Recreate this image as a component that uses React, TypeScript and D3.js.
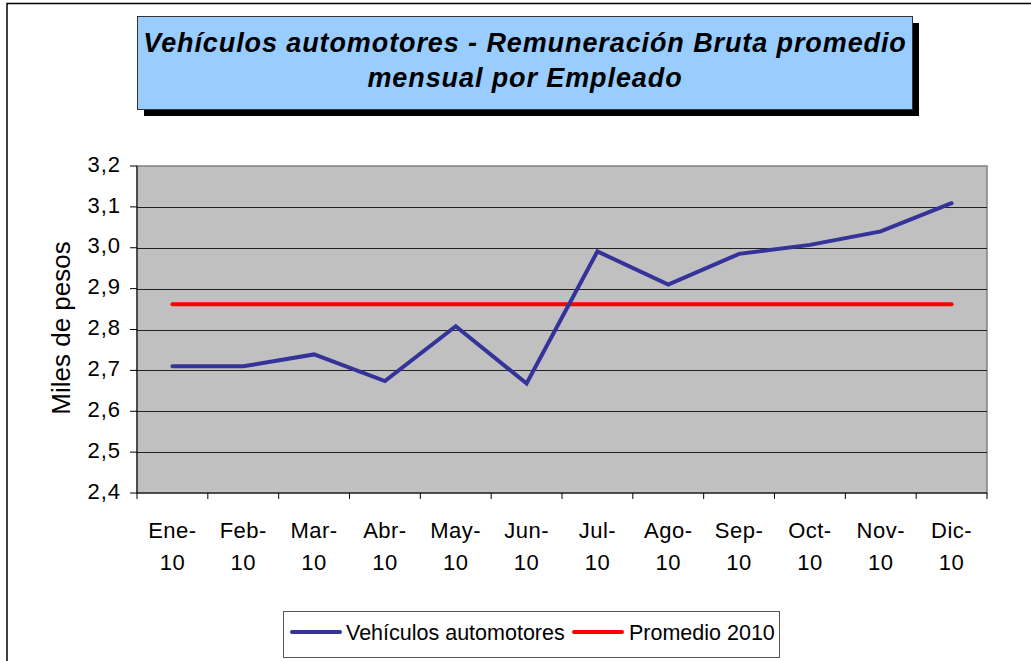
import React from "react";
import * as d3 from "d3";

const months = ["Ene-", "Feb-", "Mar-", "Abr-", "May-", "Jun-", "Jul-", "Ago-", "Sep-", "Oct-", "Nov-", "Dic-"];
const yearLabel = "10";
const vehiculos = [2.71, 2.71, 2.739, 2.674, 2.808, 2.668, 2.991, 2.91, 2.985, 3.007, 3.04, 3.109];
const promedio = [2.862, 2.862, 2.862, 2.862, 2.862, 2.862, 2.862, 2.862, 2.862, 2.862, 2.862, 2.862];
const yTicks = [2.4, 2.5, 2.6, 2.7, 2.8, 2.9, 3.0, 3.1, 3.2];

const W = 1031;
const H = 661;
const plot = { left: 137, right: 987, top: 166, bottom: 493 };
const font = "Arial, 'Liberation Sans', Helvetica, sans-serif";

export default function App() {
  const x = d3.scaleBand<string>().domain(months).range([plot.left, plot.right]);
  const y = d3.scaleLinear().domain([2.4, 3.2]).range([plot.bottom, plot.top]);
  const cx = (i: number) => (x(months[i]) as number) + x.bandwidth() / 2;

  const line = d3.line<number>().x((_, i) => cx(i)).y(d => y(d));
  const fmt = (v: number) => v.toFixed(1).replace(".", ",");

  // tick boundaries between categories
  const xTicks = d3.range(months.length + 1).map(i => plot.left + i * x.bandwidth());

  return (
    <svg width={W} height={H} style={{ position: "absolute", left: 0, top: 0, fontFamily: font }}>
      <rect x={0} y={0} width={W} height={H} fill="#fff" />
      {/* outer chart border */}
      <rect x={7} y={3.5} width={W + 10} height={H + 10} fill="none" stroke="#000" strokeWidth={1.5} />

      {/* title box with shadow */}
      <rect x={144} y={23} width={775} height={93} fill="#000" />
      <rect x={137.5} y={16.5} width={775} height={93} fill="#99ccff" stroke="#333" strokeWidth={1} />
      <text x={525} y={52} textAnchor="middle" fontSize={27} fontWeight="bold" fontStyle="italic" letterSpacing={0.9} fill="#000">
        Vehículos automotores - Remuneración Bruta promedio
      </text>
      <text x={525} y={87} textAnchor="middle" fontSize={27} fontWeight="bold" fontStyle="italic" letterSpacing={0.9} fill="#000">
        mensual por Empleado
      </text>

      {/* plot area */}
      <rect x={plot.left} y={plot.top} width={plot.right - plot.left} height={plot.bottom - plot.top} fill="#c0c0c0" stroke="#808080" strokeWidth={1.5} />
      {yTicks.slice(1, -1).map(t => (
        <line key={t} x1={plot.left} x2={plot.right} y1={Math.round(y(t)) + 0.5} y2={Math.round(y(t)) + 0.5} stroke="#222" strokeWidth={1} />
      ))}

      {/* axes */}
      <line x1={plot.left} x2={plot.left} y1={plot.top} y2={plot.bottom} stroke="#000" strokeWidth={1} />
      <line x1={plot.left} x2={plot.right} y1={plot.bottom} y2={plot.bottom} stroke="#000" strokeWidth={1} />
      {yTicks.map(t => (
        <g key={t}>
          <line x1={plot.left - 7} x2={plot.left} y1={y(t)} y2={y(t)} stroke="#000" />
          <text x={121} y={y(t) - 2} dy="0.35em" textAnchor="end" fontSize={22} letterSpacing={1} fill="#000">{fmt(t)}</text>
        </g>
      ))}
      {xTicks.map((t, i) => (
        <line key={i} x1={t} x2={t} y1={plot.bottom} y2={plot.bottom + 6} stroke="#000" />
      ))}
      {months.map((m, i) => (
        <g key={m}>
          <text x={cx(i)} y={538} textAnchor="middle" fontSize={22} letterSpacing={0.5} fill="#000">{m}</text>
          <text x={cx(i)} y={570} textAnchor="middle" fontSize={22} letterSpacing={0.5} fill="#000">{yearLabel}</text>
        </g>
      ))}
      <text transform={`translate(70,328) rotate(-90)`} textAnchor="middle" fontSize={26} fill="#000">Miles de pesos</text>

      {/* series */}
      <path d={line(promedio) as string} fill="none" stroke="#ff0000" strokeWidth={4} strokeLinecap="round" />
      <path d={line(vehiculos) as string} fill="none" stroke="#333399" strokeWidth={4} strokeLinecap="round" strokeLinejoin="miter" />

      {/* legend */}
      <rect x={283.5} y={611.5} width={496} height={46} fill="#fff" stroke="#555" strokeWidth={1} />
      <line x1={292} x2={340} y1={632} y2={632} stroke="#333399" strokeWidth={4} strokeLinecap="round" />
      <text x={346} y={640} fontSize={21.5} fill="#000">Vehículos automotores</text>
      <line x1={574} x2={622} y1={632} y2={632} stroke="#ff0000" strokeWidth={4} strokeLinecap="round" />
      <text x={629} y={640} fontSize={21.5} fill="#000">Promedio 2010</text>
    </svg>
  );
}
